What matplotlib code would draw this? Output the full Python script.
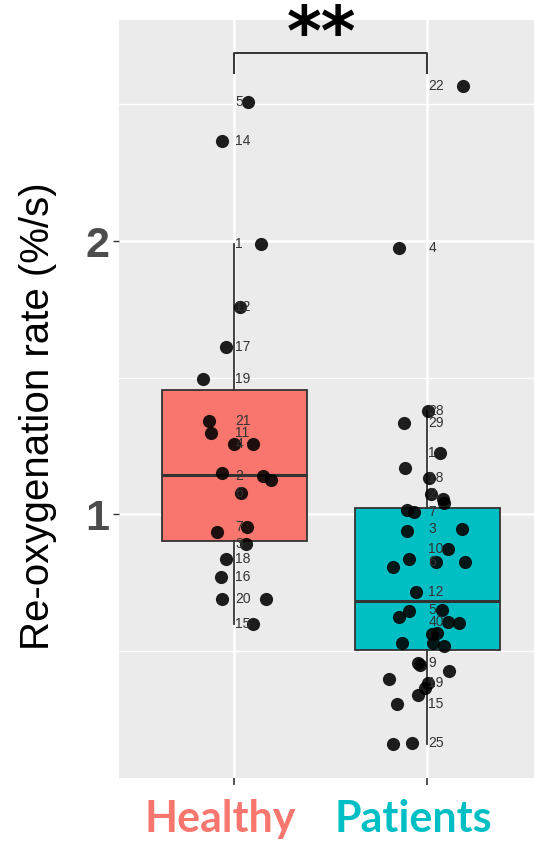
import numpy as np
import matplotlib
matplotlib.use('Agg')
import matplotlib.pyplot as plt
from matplotlib.transforms import ScaledTranslation

# group names and colours
groups = ['Healthy', 'Patients']
group_colors = ['#F8766D', '#00BFC4']

# healthy: values (%/s), horizontal jitter, subject labels
healthy_vals = [2.509, 2.366, 1.989, 1.759, 1.612, 1.495, 1.341, 1.297, 1.257, 1.257,
                1.151, 1.140, 1.126, 1.078, 0.935, 0.954, 0.891, 0.836, 0.771, 0.690,
                0.690, 0.599]
healthy_dx = [0.073, -0.062, 0.140, 0.031, -0.041, -0.161, -0.130, -0.119, 0.000, 0.098,
              -0.062, 0.150, 0.192, 0.036, -0.088, 0.067, 0.062, -0.041, -0.067, -0.062,
              0.166, 0.098]
healthy_labels = ['5', '14', '1', '12', '17', '19', '21', '11', '4', '',
                  '', '2', '', '6', '', '7', '3', '18', '16', '20',
                  '', '15']

# patients
patient_vals = [2.567, 1.974, 1.378, 1.334, 1.224, 1.169, 1.133, 1.074, 1.056, 1.041,
                1.016, 1.008, 0.946, 0.939, 0.873, 0.836, 0.825, 0.825, 0.807, 0.716,
                0.650, 0.646, 0.624, 0.605, 0.602, 0.565, 0.562, 0.529, 0.529, 0.518,
                0.456, 0.450, 0.427, 0.398, 0.383, 0.365, 0.339, 0.306, 0.163, 0.160]
patient_dx = [0.187, -0.145, 0.005, -0.119, 0.067, -0.114, 0.010, 0.021, 0.083, 0.088,
              -0.104, -0.067, 0.181, -0.104, 0.109, -0.093, 0.047, 0.197, -0.176, -0.057,
              0.078, -0.093, -0.145, 0.109, 0.166, 0.052, 0.026, -0.129, 0.031, 0.088,
              -0.047, -0.040, 0.114, -0.197, 0.005, -0.010, -0.047, -0.155, -0.078, -0.176]
patient_labels = ['22', '4', '28', '29', '1', '', '18', '2', '', '',
                  '', '7', '3', '', '10', '', '6', '', '', '12',
                  '5', '', '', '40', '', '', '', '', '', '',
                  '9', '', '', '', '19', '', '', '15', '25', '']

significance = '**'

W, H, DPI = 534, 843, 100
fig = plt.figure(figsize=(W / DPI, H / DPI), dpi=DPI)
ax = fig.add_axes([119 / W, 1 - 778 / H, 1 - 119 / W, (778 - 20) / H])
ax.set_facecolor('#EBEBEB')
for s in ax.spines.values():
    s.set_visible(False)

ax.set_xlim(0.4026, 2.553)
ax.set_ylim(0.035, 2.809)

# grid
for y in [0.5, 1.5, 2.5]:
    ax.axhline(y, color='white', lw=1.0, zorder=0)
for y in [1, 2]:
    ax.axhline(y, color='white', lw=1.8, zorder=0)
for x in [1, 2]:
    ax.axvline(x, color='white', lw=1.8, zorder=0)

# boxes
data = [healthy_vals, patient_vals]
bp = ax.boxplot(data, positions=[1, 2], widths=0.75, patch_artist=True,
                showfliers=False, showcaps=False, whis=1.5, zorder=2,
                boxprops=dict(edgecolor='#333333', linewidth=1.3),
                whiskerprops=dict(color='#333333', linewidth=1.3),
                medianprops=dict(color='#333333', linewidth=2.2))
for patch, c in zip(bp['boxes'], group_colors):
    patch.set_facecolor(c)

# jittered points + labels
for pos, vals, dxs, labs in [(1, healthy_vals, healthy_dx, healthy_labels),
                             (2, patient_vals, patient_dx, patient_labels)]:
    xs = pos + np.array(dxs)
    ax.scatter(xs, vals, s=90, color='black', alpha=0.88, linewidths=0, zorder=3)
    for v, lab in zip(vals, labs):
        if lab:
            ax.text(pos + 0.005, v, lab, fontsize=10, color='#333333',
                    family='Liberation Sans', ha='left', va='center', zorder=4)

# significance bracket
y_top, y_leg = 2.688, 2.613
ax.plot([1, 1, 2, 2], [y_leg, y_top, y_top, y_leg], color='#333333', lw=1.4,
        zorder=4, solid_capstyle='butt')
fig.text(321 / W, 1 - 55 / H, significance, fontsize=48, fontweight='bold',
         family='DejaVu Sans', ha='center', va='baseline', color='black')

# axes ticks
ax.set_yticks([1, 2])
ax.set_yticklabels(['1', '2'], fontsize=31, fontweight='bold', color='#4D4D4D',
                   family='Liberation Sans')
ax.tick_params(axis='y', length=4, width=1, color='#333333', pad=3)
ax.set_xticks([1, 2])
ax.set_xticklabels(groups, fontsize=31, fontweight='bold', family='Lato')
ax.tick_params(axis='x', length=5, width=1.2, color='#333333', pad=10)
for lab, c in zip(ax.get_xticklabels(), group_colors):
    lab.set_color(c)
    lab.set_transform(lab.get_transform() + ScaledTranslation(-14 / DPI, 0, fig.dpi_scale_trans))

ylab = ax.set_ylabel('Re-oxygenation rate (%/s)', fontsize=29, family='Liberation Sans',
                     color='black')
ylab.set_va('center')
ax.yaxis.set_label_coords((38 - 119) / (W - 119), (778 - 416) / (778 - 20))

fig.savefig('out.png', dpi=DPI)
